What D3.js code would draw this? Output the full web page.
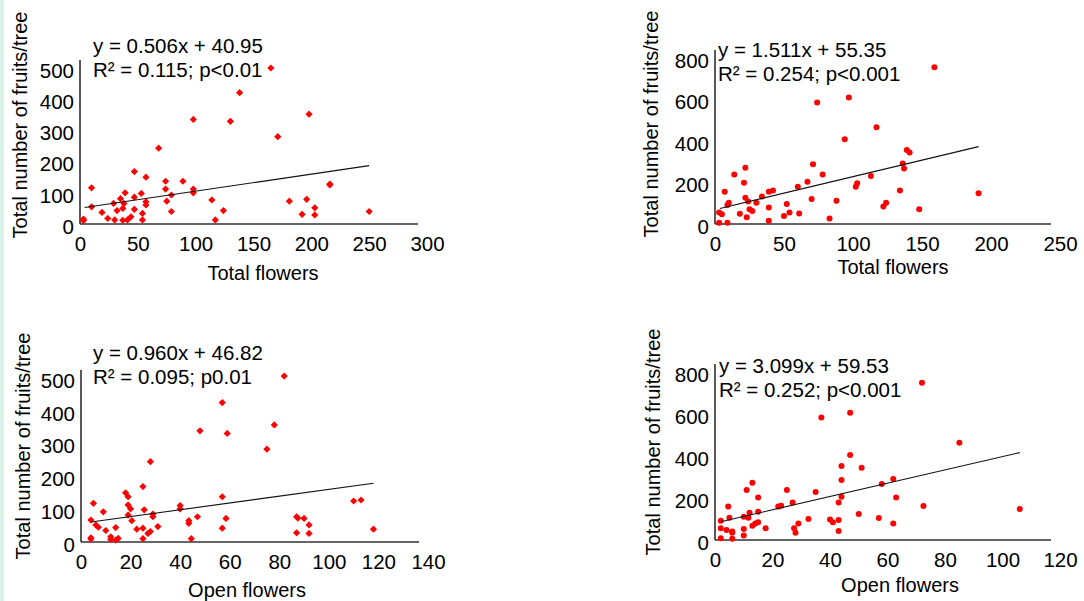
<!DOCTYPE html>
<html>
<head>
<meta charset="utf-8">
<script src="https://cdn.jsdelivr.net/npm/d3@7"></script>
<style>
  body { margin: 0; background: #fff; }
  svg text { font-family: "Liberation Sans", Arial, sans-serif; fill: #000; }
</style>
</head>
<body>
<div id="chart"></div>
<script>
// values

// top left: total flowers vs fruits (diamonds)
let p1X = [165,138,198,98,130,171,68,47,57,10,74,89,74,98,98,216,216,39,53,79,47,35,75,114,181,196,57,57,29,10,38,37,47,32,19,79,124,203,203,192,250,54,44,24,3,3,30,37,41,54,117]
let p1Y = [500,421,352,335,329,280,243,168,150,116,137,137,112,112,100,128,125,100,98,93,86,81,73,77,73,79,71,61,66,55,66,50,47,43,37,40,43,52,29,31,40,34,23,18,16,11,13,12,13,13,13]

// top right: total flowers vs fruits (dots)
let p2X = [159,97,74,117,94,139,141,136,137,71,22,14,78,113,67,103,102,60,21,7,134,191,39,42,34,22,30,24,10,9,52,70,88,124,122,148,39,25,27,18,23,54,61,50,83,39,3,5,3,9]
let p2Y = [755,610,586,466,409,357,345,292,268,288,271,239,239,231,204,196,180,180,199,156,161,148,156,161,132,127,103,108,103,92,96,120,112,103,84,71,79,71,63,50,32,55,51,39,27,16,55,47,6,6]

// bottom left: open flowers vs fruits (diamonds)
let p3X = [82,57,78,48,59,75,28,25,18,19,57,19,20,5,9,25.5,40,40,110,113,29,29,19,47,58.5,87,87.5,90,92,20.5,43.5,43.5,4,6,7,31,14,10,22.5,25,57,28,27,87,92,118,4,4,12,12,14,15,25,44.5]
let p3Y = [506,425,357,339,331,283,245,169,150,138,138,113,101,118,92,98,111,101,125,128,85,77,82,77,72,77,73,72,52,65,65,57,67,52,45,47,44,35,39,42,42,32,26,28,26,39,13,9,16,8,6,11,10,10]

// bottom right: open flowers vs fruits (dots)
let p4X = [72,37,47,85,47,44,51,44,62,58,13,11,25,35,15,63,44,43,27,22,23,72.5,4.6,106,15,12,50,5,10,57,40,11.6,32.5,43,2,41,15,14,13,29,62,2,4,10,6,17.6,27.5,28,43,10,2,6,6]
let p4Y = [749,583,606,463,405,352,344,286,290,267,273,238,238,229,202,202,206,179,179,159,163,162,159,148,135,130,124,106,111,105,98,106,100,95,92,84,84,79,68,79,79,56,48,52,40,56,56,35,43,21,8,6,35]

// fitted lines as drawn (start and end)
let trend1X = [4, 250], trend1Y = [53, 187]
let trend2X = [3.6, 191], trend2Y = [75, 373]
let trend3X = [4, 118], trend3Y = [61, 179]
let trend4X = [2, 106], trend4Y = [87, 416]

// tick labels
let ticksTotal1 = [0, 50, 100, 150, 200, 250, 300]
let ticksTotal2 = [0, 50, 100, 150, 200, 250]
let ticksOpen1 = [0, 20, 40, 60, 80, 100, 120, 140]
let ticksOpen2 = [0, 20, 40, 60, 80, 100, 120]
let ticksFruit500 = [0, 100, 200, 300, 400, 500]
let ticksFruit800 = [0, 200, 400, 600, 800]

let equations = [
  ["y = 0.506x + 40.95", "R\u00b2 = 0.115; p<0.01"],
  ["y = 1.511x + 55.35", "R\u00b2 = 0.254; p<0.001"],
  ["y = 0.960x + 46.82", "R\u00b2 = 0.095; p0.01"],
  ["y = 3.099x + 59.53", "R\u00b2 = 0.252; p<0.001"]
]
let xTitles = ["Total flowers", "Total flowers", "Open flowers", "Open flowers"]
let yTitle = "Total number of fruits/tree"

let svg = d3.select('#chart').append('svg')
    .attr("width", 1084)
    .attr("height", 601)

svg.append("rect").attr("width", 1084).attr("height", 601).attr("fill", "#fff")
// faint green edge of the page scan
svg.append("rect").attr("x", 0).attr("y", 0).attr("width", 4).attr("height", 601).attr("fill", "#d9f4e6")

let panels = [
  { xs: p1X, ys: p1Y, tx: trend1X, ty: trend1Y, xt: ticksTotal1, yt: ticksFruit500,
    xr: [80, 427], yr: [224, 68], shape: "diamond", eq: equations[0], eqPos: [93, 53],
    xTitle: xTitles[0], xTitlePos: [263, 280], yTitlePos: [20, 125] },
  { xs: p2X, ys: p2Y, tx: trend2X, ty: trend2Y, xt: ticksTotal2, yt: ticksFruit800,
    xr: [715, 1060], yr: [224, 58], shape: "dot", eq: equations[1], eqPos: [718, 57],
    xTitle: xTitles[1], xTitlePos: [893, 274], yTitlePos: [651, 124] },
  { xs: p3X, ys: p3Y, tx: trend3X, ty: trend3Y, xt: ticksOpen1, yt: ticksFruit500,
    xr: [81, 428], yr: [542, 378], shape: "diamond", eq: equations[2], eqPos: [93, 360],
    xTitle: xTitles[2], xTitlePos: [247, 597], yTitlePos: [23, 446] },
  { xs: p4X, ys: p4Y, tx: trend4X, ty: trend4Y, xt: ticksOpen2, yt: ticksFruit800,
    xr: [715, 1060], yr: [540, 372], shape: "dot", eq: equations[3], eqPos: [719, 373],
    xTitle: xTitles[3], xTitlePos: [900, 592], yTitlePos: [653, 442] }
]

let diamond = d3.symbol().type(d3.symbolSquare).size(26)

panels.forEach(p => {
  let x = d3.scaleLinear().domain([0, d3.max(p.xt)]).range(p.xr)
  let y = d3.scaleLinear().domain([0, d3.max(p.yt)]).range(p.yr)
  let g = svg.append("g")

  // axes, labels only
  let ax = g.append("g")
      .attr("transform", "translate(0," + y(0) + ")")
      .call(d3.axisBottom(x).tickValues(p.xt).tickSize(0).tickPadding(12))
  ax.select(".domain").remove()
  ax.selectAll("text").style("font-size", "20.5px")

  let ay = g.append("g")
      .attr("transform", "translate(" + x(0) + ",0)")
      .call(d3.axisLeft(y).tickValues(p.yt).tickSize(0).tickPadding(6))
  ay.select(".domain").remove()
  ay.selectAll("text").style("font-size", "20.5px").attr("dy", "0.45em")

  // axis lines stop a little short like the original
  g.append("line")
      .attr("x1", x(0)).attr("x2", x.range()[1] - 9)
      .attr("y1", y(0)).attr("y2", y(0))
      .attr("stroke", "#333").attr("stroke-width", 1.7)
  g.append("line")
      .attr("x1", x(0)).attr("x2", x(0))
      .attr("y1", y(0)).attr("y2", y.range()[1] - 8)
      .attr("stroke", "#222").attr("stroke-width", 1.5)

  let pts = p.xs.map((v, i) => ({ x: v, y: p.ys[i] }))
  if (p.shape == "diamond") {
    g.selectAll(".pt").data(pts).enter().append("path")
        .attr("d", diamond)
        .attr("transform", d => "translate(" + x(d.x) + "," + y(d.y) + ") rotate(45)")
        .attr("fill", "#ff0000")
  } else {
    g.selectAll(".pt").data(pts).enter().append("circle")
        .attr("cx", d => x(d.x)).attr("cy", d => y(d.y))
        .attr("r", 3)
        .attr("fill", "#ff0000")
  }

  let trend = p.tx.map((v, i) => ({ x: v, y: p.ty[i] }))
  g.append("path")
      .datum(trend)
      .attr("d", d3.line().x(d => x(d.x)).y(d => y(d.y)))
      .attr("fill", "none").attr("stroke", "#111").attr("stroke-width", 1.1)

  g.append("text").attr("x", p.eqPos[0]).attr("y", p.eqPos[1])
      .style("font-size", "20.5px").text(p.eq[0])
  g.append("text").attr("x", p.eqPos[0]).attr("y", p.eqPos[1] + 24)
      .style("font-size", "20.5px").text(p.eq[1])

  g.append("text")
      .attr("x", p.xTitlePos[0]).attr("y", p.xTitlePos[1])
      .attr("text-anchor", "middle")
      .style("font-size", "20px").text(p.xTitle)

  g.append("text")
      .attr("transform", "translate(" + p.yTitlePos[0] + "," + p.yTitlePos[1] + ") rotate(-90)")
      .attr("text-anchor", "middle").attr("dy", "0.35em")
      .style("font-size", "20px").text(yTitle)
})
</script>
</body>
</html>
